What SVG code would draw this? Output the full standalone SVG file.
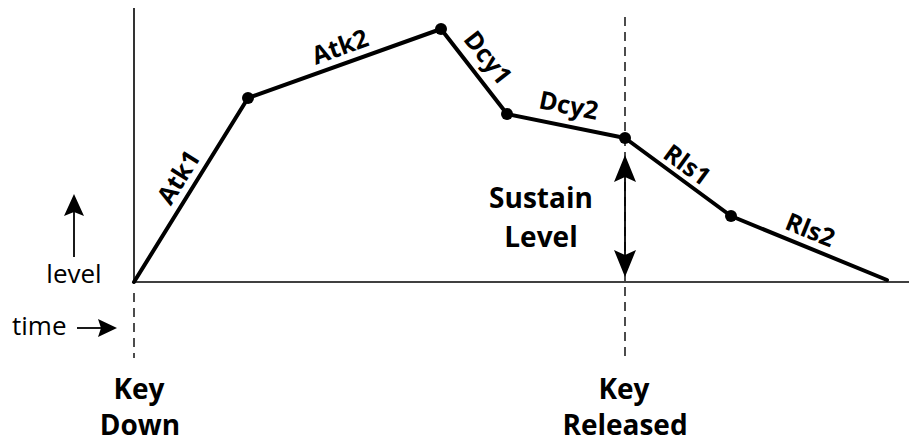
<svg xmlns="http://www.w3.org/2000/svg" width="909" height="444" viewBox="0 0 909 444">
<style>
.axis{stroke:#000;stroke-width:1.6;fill:none}
.dash{stroke:#000;stroke-width:1.4;fill:none;stroke-dasharray:9 6}
.env{stroke:#000;stroke-width:4;fill:none;stroke-linejoin:round;stroke-linecap:round}
.dot{fill:#000}
.head{fill:#000}
.thin{stroke:#000;stroke-width:1.8;fill:none}
.seg{font-family:"Open Sans","Noto Sans",sans-serif;font-weight:bold;font-size:25px;text-anchor:middle;fill:#000}
.big{font-family:"Open Sans","Noto Sans",sans-serif;font-weight:bold;font-size:28px;text-anchor:middle;fill:#000}
.small{font-family:"Open Sans","Noto Sans",sans-serif;font-size:26px;fill:#000}
</style>
<rect width="909" height="444" fill="#fff"/>
<g id="axes">
<line class="axis" x1="134" y1="8" x2="134" y2="282"/>
<line class="axis" x1="134" y1="282" x2="909" y2="282"/>
<line class="dash" x1="134" y1="293" x2="134" y2="358"/>
<line class="dash" x1="625" y1="17" x2="625" y2="358"/>
</g>
<g id="connectors">
<polyline class="env" points="134,282 248,98 441,29 507,114 625,138 731,216 887,280"/>
</g>
<g id="points">
<circle class="dot" cx="248" cy="98" r="6"/>
<circle class="dot" cx="441" cy="29" r="6"/>
<circle class="dot" cx="507" cy="114" r="6"/>
<circle class="dot" cx="625" cy="138" r="6"/>
<circle class="dot" cx="731" cy="216" r="6"/>
</g>
<g id="segment-labels">
<text class="seg" transform="translate(186,182) rotate(-58)">Atk1</text>
<text class="seg" transform="translate(343,55) rotate(-20)">Atk2</text>
<text class="seg" transform="translate(481,63) rotate(52)">Dcy1</text>
<text class="seg" transform="translate(567,114) rotate(11.5)">Dcy2</text>
<text class="seg" transform="translate(682,172) rotate(36)">Rls1</text>
<text class="seg" transform="translate(807,238) rotate(22)">Rls2</text>
</g>
<g id="sustain">
<line class="thin" x1="625" y1="175" x2="625" y2="258"/>
<polygon class="head" points="625,155 636,182 625,177 614,182"/>
<polygon class="head" points="625,277 636,250 625,255 614,250"/>
<text class="big" x="541" y="208">Sustain</text>
<text class="big" x="541" y="247">Level</text>
</g>
<g id="level-legend">
<line class="thin" x1="74" y1="257" x2="74" y2="210"/>
<polygon class="head" points="74,194 84,216 74,212 64,216"/>
<text class="small" x="74" y="283" text-anchor="middle">level</text>
</g>
<g id="time-legend">
<line class="thin" x1="77" y1="328" x2="103" y2="328"/>
<polygon class="head" points="117,328 98,319 101,328 98,337"/>
<text class="small" x="12" y="335">time</text>
</g>
<g id="key-down">
<text class="big" x="139" y="399">Key</text>
<text class="big" x="140" y="435">Down</text>
</g>
<g id="key-released">
<text class="big" x="624" y="399">Key</text>
<text class="big" x="625" y="435">Released</text>
</g>
</svg>
